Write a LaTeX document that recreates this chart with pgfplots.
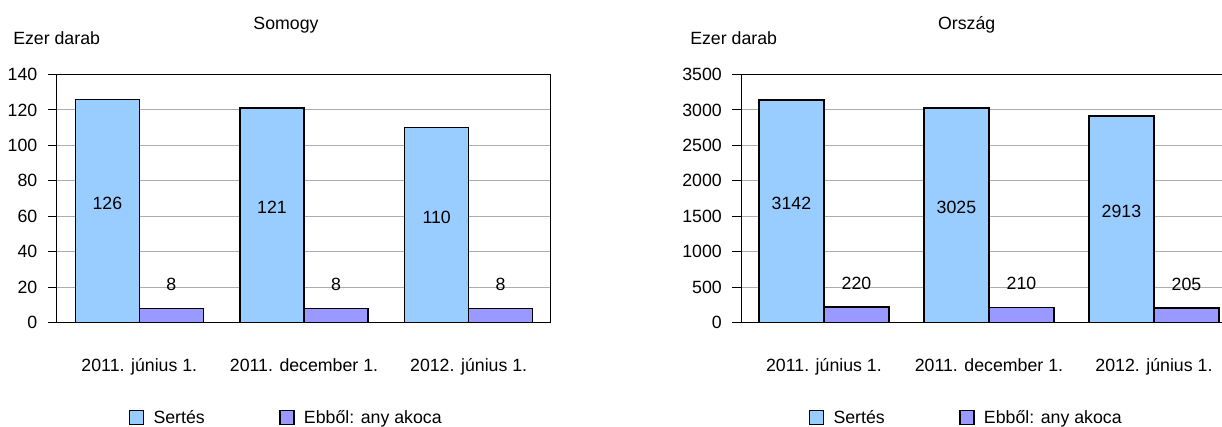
\documentclass[border=0pt]{standalone}
\usepackage{fontspec}
\setmainfont{Liberation Sans}
\usepackage{pgfplots}
\pgfplotsset{compat=1.18}
\newcommand\cf{\fontsize{13.3pt}{16pt}\selectfont}
\definecolor{sertes}{HTML}{99CCFF}
\definecolor{koca}{HTML}{9999FF}
\pgfplotsset{
 mybar/.style={
  scale only axis, height=186pt, ybar=0pt,
  xmin=-0.5, xmax=2.5, ymin=0, xtick={0,1,2},
  xticklabels={2011. június 1.,2011. december 1.,2012. június 1.},
  xtick style={draw=none}, ytick pos=left, tick align=outside, major tick length=6.75pt,
  ytick style={black, line width=0.75pt},
  ymajorgrids, major grid style={black!32, line width=0.75pt},
  axis line style={black, line width=0.75pt},
  tick label style={font=\cf},
  /pgf/number format/assume math mode=true,
  /pgf/number format/1000 sep={},
  scaled y ticks=false,
  xticklabel style={anchor=base, yshift=-30pt},
  yticklabel style={anchor=east, xshift=-4.5pt},
  legend columns=2,
  legend image code/.code={\draw[##1, line width=0.9pt, bar shift=0pt] (0pt,-5.25pt) rectangle (10.5pt,5.25pt);},
  legend style={draw=none, fill=none, inner sep=0pt, outer sep=0pt, anchor=west, font=\cf,
    nodes={inner sep=0pt},
    /tikz/every odd column/.append style={column sep=7pt},
    /tikz/every even column/.append style={column sep=56pt}},
  nodes near coords style={font=\cf, text=black},
 },
 sert/.style={fill=sertes, draw=black, line width=1.1pt,
  nodes near coords, visualization depends on={rawy/2 \as \hy},
  every node near coord/.append style={anchor=center, shift={(axis direction cs:0,-\hy)}, yshift=6pt}},
 koca/.style={fill=koca, draw=black, line width=1.1pt,
  nodes near coords,
  every node near coord/.append style={anchor=center, yshift=18pt}},
}
\begin{document}
\begin{tikzpicture}
\path[use as bounding box] (0,0) rectangle (916.5pt,319.5pt);
\clip (0,0) rectangle (916.5pt,319.5pt);
\begin{axis}[mybar, at={(42.75pt,77.6pt)}, anchor=south west, width=370.5pt,
  bar width=48pt, ymax=140, ytick={0,20,...,140},
  legend style={at={(axis description cs:0.1457,-0.383)}}]
\addplot[sert] coordinates {(0,126) (1,121) (2,110)};
\addplot[koca] coordinates {(0,8) (1,8) (2,8)};
\legend{Sertés, Ebből: any akoca}
\end{axis}
\begin{axis}[mybar, at={(556.1pt,77.6pt)}, anchor=south west, width=371.25pt,
  bar width=48.75pt, ymax=3500, ytick={0,500,...,3500},
  legend style={at={(axis description cs:0.1364,-0.383)}}]
\addplot[sert] coordinates {(0,3142) (1,3025) (2,2913)};
\addplot[koca] coordinates {(0,220) (1,210) (2,205)};
\legend{Sertés, Ebből: any akoca}
\end{axis}
\node[font=\cf, anchor=base, inner sep=0pt] at (214.5pt,297.75pt) {Somogy};
\node[font=\cf, anchor=base, inner sep=0pt] at (725pt,297.75pt) {Ország};
\node[font=\cf, anchor=base west, inner sep=0pt] at (9.75pt,286.5pt) {Ezer darab};
\node[font=\cf, anchor=base west, inner sep=0pt] at (517.5pt,286.5pt) {Ezer darab};
\end{tikzpicture}
\end{document}
